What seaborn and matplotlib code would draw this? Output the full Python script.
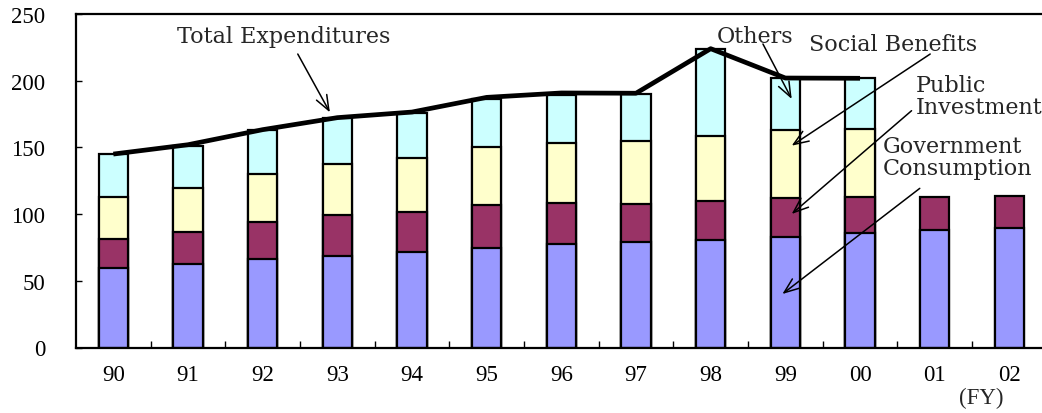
import numpy as np
import pandas as pd
import matplotlib
matplotlib.use("Agg")
import matplotlib.pyplot as plt
import seaborn as sns

# Fiscal years and expenditure components (trillion yen)
years = ["90", "91", "92", "93", "94", "95", "96", "97", "98", "99", "00", "01", "02"]
gov_consumption = [59.4, 62.8, 66.3, 68.8, 71.8, 74.6, 77.8, 79.3, 80.8, 83.1, 86.1, 88.3, 89.8]
public_investment = [21.9, 24.0, 28.0, 30.8, 30.0, 32.4, 30.3, 28.5, 29.0, 28.7, 26.5, 24.3, 24.0]
social_benefits = [31.3, 33.0, 35.5, 37.7, 40.5, 43.1, 45.0, 46.8, 49.0, 51.2, 51.0]
others = [32.2, 31.5, 33.5, 35.0, 33.5, 36.2, 36.4, 35.7, 65.0, 38.8, 38.2]
total_expenditures = [145.0, 152.0, 163.3, 172.3, 176.5, 187.5, 190.8, 190.6, 224.0, 202.0, 201.8]

y_ticks = [0, 50, 100, 150, 200, 250]

sns.set_theme(style="white")
plt.rcParams["font.family"] = ["Liberation Serif", "DejaVu Serif"]

fig = plt.figure(figsize=(10.42, 4.14), dpi=100)
ax = fig.add_axes([76 / 1042, 65.5 / 414, 970.7 / 1042, 333.5 / 414])

n_full = len(social_benefits)
layer_gc = np.array(gov_consumption)
layer_pi = layer_gc + np.array(public_investment)
layer_sb = layer_pi[:n_full] + np.array(social_benefits)
layer_ot = layer_sb + np.array(others)

layers = [
    (years[:n_full], layer_ot, "#CCFFFF"),
    (years[:n_full], layer_sb, "#FFFFCC"),
    (years, layer_pi, "#993366"),
    (years, layer_gc, "#9999FF"),
]
for cats, heights, color in layers:
    sns.barplot(x=list(cats), y=list(heights), order=years, color=color,
                width=0.39, edgecolor="black", linewidth=1.6, saturation=1,
                ax=ax, zorder=2)

# Total expenditures line across the fiscal years
line_df = pd.DataFrame({"pos": np.arange(len(total_expenditures)),
                        "total": total_expenditures})
sns.lineplot(data=line_df, x="pos", y="total", color="black", linewidth=3.4,
             ax=ax, zorder=4, solid_capstyle="butt")

ax.set_xlim(-0.5, len(years) - 0.5)
ax.set_ylim(0, 250)
ax.set_yticks(y_ticks)
ax.set_yticklabels([str(t) for t in y_ticks])
ax.set_xticks(np.arange(len(years)))
ax.set_xticklabels(years)
ax.set_xticks(np.arange(0.5, len(years) - 1, 1), minor=True)
ax.set_xlabel("")
ax.set_ylabel("")

ax.tick_params(axis="x", which="major", length=0, pad=12, labelsize=16.5,
               colors="black")
ax.tick_params(axis="x", which="minor", direction="in", length=5, width=1,
               color="black", bottom=True)
ax.tick_params(axis="y", which="major", direction="in", length=4.5, width=1,
               color="black", pad=22, labelsize=16.5, left=True, labelcolor="black")

for side in ["left", "top", "bottom", "right"]:
    ax.spines[side].set_visible(True)
    ax.spines[side].set_color("black")
    ax.spines[side].set_linewidth(1.6)

# Series labels with pointer arrows
label_font = dict(fontsize=16, family="DejaVu Serif")
arrow = dict(arrowstyle="->,head_length=0.9,head_width=0.35", color="black",
             lw=1.1, shrinkA=0, shrinkB=0)

ax.text(0.85, 233.5, "Total Expenditures", va="center", ha="left", **label_font)
ax.annotate("", xy=(2.90, 176.3), xytext=(2.47, 220.0), arrowprops=arrow)

ax.text(8.08, 233.5, "Others", va="center", ha="left", **label_font)
ax.annotate("", xy=(9.085, 186.3), xytext=(8.70, 227.5), arrowprops=arrow)

ax.text(9.31, 227.5, "Social Benefits", va="center", ha="left", **label_font)
ax.annotate("", xy=(9.085, 151.3), xytext=(10.94, 220.0), arrowprops=arrow)

ax.text(10.74, 188.7, "Public\nInvestment", va="center", ha="left",
        linespacing=1.0, **label_font)
ax.annotate("", xy=(9.085, 100.1), xytext=(10.69, 177.5), arrowprops=arrow)

ax.text(10.30, 142.6, "Government\nConsumption", va="center", ha="left",
        linespacing=1.0, **label_font)
ax.annotate("", xy=(8.96, 40.1), xytext=(10.80, 119.3), arrowprops=arrow)

fig.text(981 / 1042, 1 - 398 / 414, "(FY)", fontsize=16.5, ha="center", va="center")

fig.savefig("out.png", dpi=100, facecolor="white")
